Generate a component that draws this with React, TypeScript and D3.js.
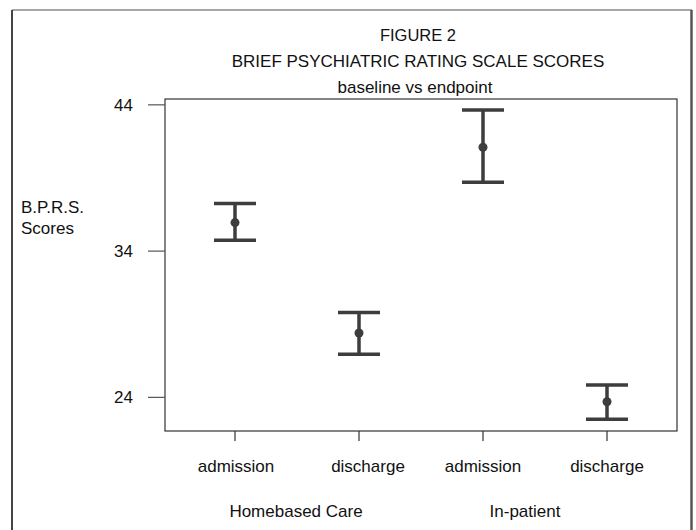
import React from "react";
import * as d3 from "d3";

const categories = ["admission", "discharge", "admission ", "discharge "];
const categoryLabels = ["admission", "discharge", "admission", "discharge"];
const groups = ["Homebased Care", "In-patient"];
const means = [35.95, 28.4, 41.1, 23.7];
const upper = [37.25, 29.8, 43.65, 24.85];
const lower = [34.75, 26.95, 38.7, 22.5];
const yTicks = [24, 34, 44];
const titles = ["FIGURE 2", "BRIEF PSYCHIATRIC RATING SCALE SCORES", "baseline vs endpoint"];
const yLabel = ["B.P.R.S.", "Scores"];

// layout (not data)
const labelDx = [1, 9, 0, 0];
const groupCenters = [296, 525];

export default function App() {
  const W = 696;
  const H = 530;
  const left = 165, right = 677, top = 99, bottom = 431;
  const y = d3.scaleLinear().domain([21.7, 44.4]).range([bottom, top]);
  const x = d3.scalePoint<string>().domain(categories).range([left, right]).padding(0.5645);
  const font = "'Liberation Sans', Arial, sans-serif";
  const barColor = "#3d3d3d";
  const capHalf = 21;

  return (
    <svg width={W} height={H} style={{ position: "absolute", left: 0, top: 0, background: "#fff" }} fontFamily={font}>
      <rect x={0} y={0} width={W} height={H} fill="#fff" />
      {/* outer frame */}
      <line x1={12} y1={10} x2={692} y2={10} stroke="#8a8a8a" strokeWidth={1.5} />
      <line x1={12} y1={10} x2={12} y2={H + 5} stroke="#444" strokeWidth={2} />
      <line x1={691.5} y1={10} x2={691.5} y2={H + 5} stroke="#555" strokeWidth={2.5} />

      {/* titles */}
      <text x={418} y={41} textAnchor="middle" fontSize={16.5} fill="#111">{titles[0]}</text>
      <text x={418} y={67} textAnchor="middle" fontSize={17} fill="#111">{titles[1]}</text>
      <text x={415} y={93} textAnchor="middle" fontSize={17} fill="#111">{titles[2]}</text>

      {/* y label */}
      <text x={21} y={213} fontSize={17} fill="#111">{yLabel[0]}</text>
      <text x={21} y={234} fontSize={17} fill="#111">{yLabel[1]}</text>

      {/* plot frame */}
      <rect x={left} y={top} width={right - left} height={bottom - top} fill="none" stroke="#333" strokeWidth={1.2} />

      {/* y ticks */}
      {yTicks.map((t) => (
        <g key={t}>
          <line x1={148} x2={left} y1={y(t)} y2={y(t)} stroke="#555" strokeWidth={1.2} />
          <text x={133} y={y(t)} dy="0.36em" textAnchor="end" fontSize={17} fill="#111">{t}</text>
        </g>
      ))}

      {/* x ticks and labels */}
      {categories.map((c, i) => (
        <g key={c}>
          <line x1={x(c)} x2={x(c)} y1={bottom} y2={bottom + 10} stroke="#333" strokeWidth={1.2} />
          <text x={(x(c) as number) + labelDx[i]} y={472} textAnchor="middle" fontSize={17} fill="#111">{categoryLabels[i]}</text>
        </g>
      ))}
      {groups.map((g, i) => (
        <text key={g} x={groupCenters[i]} y={517} textAnchor="middle" fontSize={17} fill="#111">{g}</text>
      ))}

      {/* error bars */}
      {categories.map((c, i) => {
        const cx = x(c) as number;
        return (
          <g key={"e" + i} stroke={barColor} strokeWidth={3.5}>
            <line x1={cx} x2={cx} y1={y(upper[i])} y2={y(lower[i])} />
            <line x1={cx - capHalf} x2={cx + capHalf} y1={y(upper[i])} y2={y(upper[i])} />
            <line x1={cx - capHalf} x2={cx + capHalf} y1={y(lower[i])} y2={y(lower[i])} />
            <circle cx={cx} cy={y(means[i])} r={4.5} fill={barColor} stroke="none" />
          </g>
        );
      })}
    </svg>
  );
}
